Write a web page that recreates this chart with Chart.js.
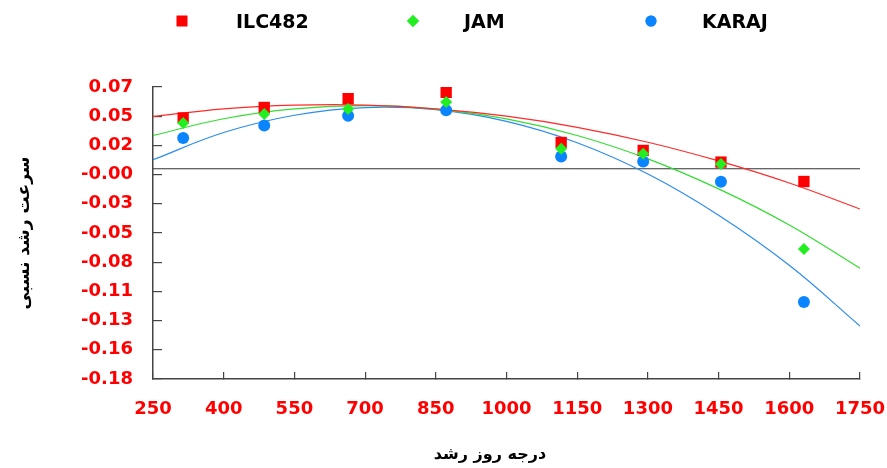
<!DOCTYPE html>
<html>
<head>
<meta charset="utf-8">
<script src="https://cdn.jsdelivr.net/npm/chart.js@4.4.1/dist/chart.umd.min.js"></script>
<style>
  html, body { margin: 0; padding: 0; background: #ffffff; }
  #wrap { width: 887px; height: 468px; }
</style>
</head>
<body>
<div id="wrap"><canvas id="chart" width="887" height="468"></canvas></div>
<script>
// Growing degree days at each sampling date
const gdd = [314, 486, 664, 872, 1116, 1290, 1455, 1631];

// Relative growth rate of each cultivar
const ilc482 = [0.0435, 0.0525, 0.0600, 0.0654, 0.0225, 0.0157, 0.0057, -0.0109];
const jam    = [0.0392, 0.0469, 0.0512, 0.0572, 0.0171, 0.0129, 0.0040, -0.0688];
const karaj  = [0.0263, 0.0371, 0.0454, 0.0500, 0.0105, 0.0063, -0.0111, -0.1140];

// Second-order trend lines, sampled along the degree-day axis
const trendX     = [250, 400, 550, 700, 850, 1000, 1150, 1300, 1450, 1600, 1750];
const trendIlc   = [0.0448, 0.0513, 0.0544, 0.0545, 0.0513, 0.0450, 0.0355, 0.0227, 0.0067, -0.0122, -0.0345];
const trendJam   = [0.0285, 0.0428, 0.0512, 0.0540, 0.0511, 0.0427, 0.0285, 0.0085, -0.0172, -0.0481, -0.0851];
const trendKaraj = [0.0077, 0.0310, 0.0458, 0.0524, 0.0506, 0.0406, 0.0223, -0.0045, -0.0397, -0.0826, -0.1346];

// Axis tick labels
const xTickLabels = ['250', '400', '550', '700', '850', '1000', '1150', '1300', '1450', '1600', '1750'];
const yTickLabels = ['-0.18', '-0.16', '-0.13', '-0.11', '-0.08', '-0.05', '-0.03', '-0.00', '0.02', '0.05', '0.07'];

const seriesNames = ['ILC482', 'JAM', 'KARAJ'];
const xTitle = 'درجه روز رشد';
const yTitle = 'سرعت رشد نسبی';

const RED = '#ff0000', GREEN = '#22ee22', BLUE = '#0a84ff';
const LINE_RED = '#ff2a2a', LINE_GREEN = '#33dd33', LINE_BLUE = '#2b8cf0';

const pts = (xs, ys) => xs.map((x, i) => ({ x: x, y: ys[i] }));

// Legend along the top of the canvas, plus the x-axis title under the tick labels
const annotations = {
  id: 'annotations',
  afterDraw(chart) {
    const ctx = chart.ctx;
    const items = [
      { name: seriesNames[0], style: 'rect',    color: RED,   r: 7.5, mx: 182, tx: 236 },
      { name: seriesNames[1], style: 'rectRot', color: GREEN, r: 6,   mx: 413, tx: 464 },
      { name: seriesNames[2], style: 'circle',  color: BLUE,  r: 5.5, mx: 651, tx: 702 }
    ];
    ctx.save();
    items.forEach(it => {
      ctx.fillStyle = it.color;
      ctx.strokeStyle = it.color;
      Chart.helpers.drawPoint(ctx, { pointStyle: it.style, radius: it.r, rotation: 0, borderWidth: 0 }, it.mx, 21);
      ctx.fill();
      ctx.fillStyle = '#000000';
      ctx.font = 'bold 19px "DejaVu Sans", sans-serif';
      ctx.textAlign = 'left';
      ctx.textBaseline = 'middle';
      ctx.fillText(it.name, it.tx, 23);
    });
    ctx.fillStyle = '#000000';
    ctx.font = 'bold 16px "DejaVu Sans", sans-serif';
    ctx.textAlign = 'center';
    ctx.textBaseline = 'middle';
    ctx.fillText(xTitle, 490, 455);
    ctx.restore();
  }
};

const scatterSet = (label, ys, color, style, r, order) => ({
  type: 'scatter',
  label: label,
  data: pts(gdd, ys),
  pointStyle: style,
  pointRadius: r,
  pointHoverRadius: r,
  backgroundColor: color,
  borderColor: color,
  borderWidth: 0,
  order: order
});

const trendSet = (ys, color, order) => ({
  type: 'line',
  data: pts(trendX, ys),
  borderColor: color,
  borderWidth: 1.2,
  pointRadius: 0,
  tension: 0.4,
  fill: false,
  order: order
});

new Chart(document.getElementById('chart'), {
  type: 'scatter',
  data: {
    datasets: [
      scatterSet(seriesNames[1], jam, GREEN, 'rectRot', 6, 1),
      scatterSet(seriesNames[0], ilc482, RED, 'rect', 8, 2),
      scatterSet(seriesNames[2], karaj, BLUE, 'circle', 6, 3),
      trendSet(trendIlc, LINE_RED, 4),
      trendSet(trendJam, LINE_GREEN, 5),
      trendSet(trendKaraj, LINE_BLUE, 6),
      {
        type: 'line',
        data: pts([250, 1750], [0, 0]),
        borderColor: '#333333',
        borderWidth: 1.2,
        pointRadius: 0,
        order: 7
      }
    ]
  },
  options: {
    responsive: false,
    animation: false,
    events: [],
    layout: { padding: { top: 87, left: 0, right: 27, bottom: 0 } },
    plugins: { legend: { display: false }, tooltip: { enabled: false } },
    scales: {
      x: {
        type: 'linear',
        min: 250, max: 1750,
        ticks: {
          stepSize: 150,
          padding: 27,
          color: RED,
          font: { family: '"DejaVu Sans", sans-serif', weight: 'bold', size: 18 },
          maxRotation: 0,
          callback: (v, i) => xTickLabels[i]
        },
        grid: { drawOnChartArea: false, drawTicks: true, tickLength: -7, color: '#444444', lineWidth: 1.2 },
        border: { display: true, color: '#444444', width: 1.5 },
        afterFit: s => { s.height = 89; s.paddingLeft = 0; s.paddingRight = 0; }
      },
      y: {
        type: 'linear',
        min: -0.18, max: 0.07,
        ticks: {
          stepSize: 0.025,
          padding: 29,
          color: RED,
          font: { family: '"DejaVu Sans", sans-serif', weight: 'bold', size: 18 },
          callback: (v, i) => yTickLabels[i]
        },
        grid: { drawOnChartArea: false, drawTicks: true, tickLength: -9, color: '#444444', lineWidth: 1.2 },
        border: { display: true, color: '#444444', width: 1.5 },
        title: {
          display: true,
          text: yTitle,
          color: '#000000',
          font: { family: '"DejaVu Sans", sans-serif', weight: 'bold', size: 17 },
          padding: { top: 14, bottom: 0 }
        },
        afterFit: s => { s.width = 153; }
      }
    }
  },
  plugins: [annotations]
});
</script>
</body>
</html>
